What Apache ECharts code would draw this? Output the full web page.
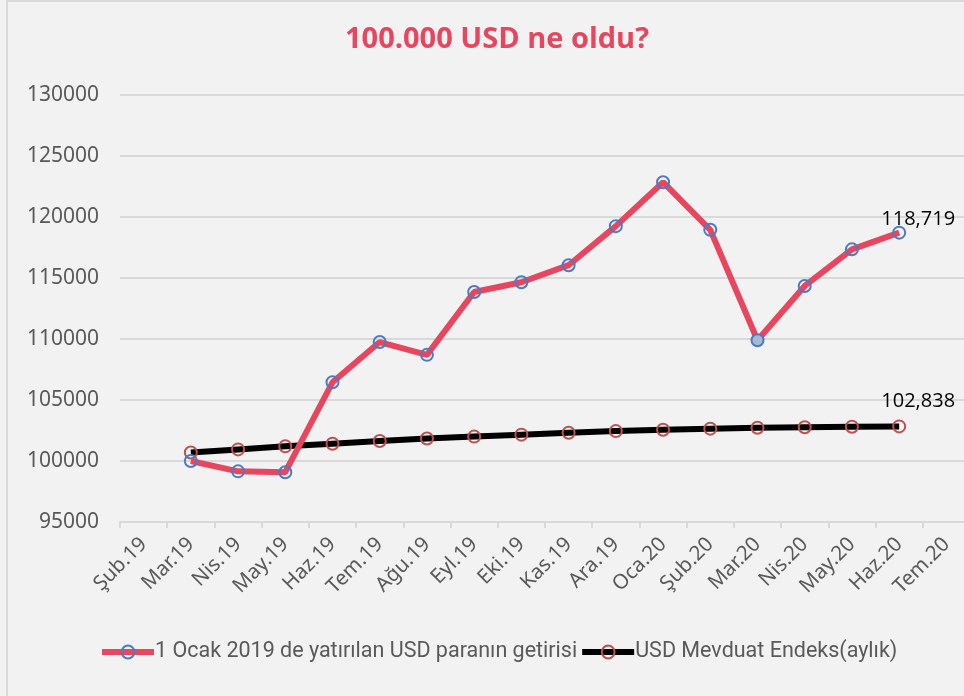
<!DOCTYPE html>
<html>
<head>
<meta charset="utf-8">
<script src="https://cdn.jsdelivr.net/npm/echarts@6/dist/echarts.min.js"></script>
<style>
  html, body { margin: 0; padding: 0; background: #f2f2f2; overflow: hidden; }
  #chart { width: 980px; height: 696px; }
</style>
</head>
<body>
<div id="chart"></div>
<script>
const months = ['Şub.19', 'Mar.19', 'Nis.19', 'May.19', 'Haz.19', 'Tem.19', 'Ağu.19', 'Eyl.19', 'Eki.19',
  'Kas.19', 'Ara.19', 'Oca.20', 'Şub.20', 'Mar.20', 'Nis.20', 'May.20', 'Haz.20', 'Tem.20'];
// ilk ay (Şub.19) ve son ay (Tem.20) boş
const getiri = [null, 100000, 99150, 99080, 106450, 109750, 108700, 113850, 114650,
  116050, 119250, 122850, 118950, 109900, 114350, 117350, 118719, null];
const mevduat = [null, 100700, 100950, 101200, 101420, 101640, 101840, 102000, 102160,
  102320, 102450, 102560, 102650, 102720, 102770, 102810, 102838, null];
const yTicks = [95000, 130000, 5000]; // min, max, interval

// grafik sağ kenardan biraz taşıyor, o yüzden div 980px
const chart = echarts.init(document.getElementById('chart'));

// son noktaya etiket
function lastLabel(arr, dy) {
  return arr.map((v, i) => {
    if (i === 16) {
      return {
        value: v,
        label: {
          show: true, position: 'top', distance: 4, offset: [19, dy],
          formatter: p => p.value.toLocaleString('en-US'),
          color: '#000', fontSize: 20, fontFamily: 'Open Sans'
        }
      };
    }
    if (arr === getiri && i === 13) {
      return { value: v, itemStyle: { color: '#a9b8cc' } };
    }
    return v;
  });
}

const name1 = '1 Ocak 2019 de yatırılan USD paranın getirisi';
const name2 = 'USD Mevduat Endeks(aylık)';

chart.setOption({
  backgroundColor: '#f2f2f2',
  graphic: [{
    type: 'rect',
    shape: { x: 7, y: 1, width: 1000, height: 720 },
    style: { fill: 'none', stroke: '#d9d9d9', lineWidth: 2 },
    silent: true
  }],
  title: {
    text: '100.000 USD ne oldu?',
    left: 492, top: 20, textAlign: 'center',
    textStyle: { color: '#e8465f', fontSize: 29, fontWeight: 'bold', fontFamily: 'Open Sans' }
  },
  legend: {
    top: 636, left: 94,
    itemWidth: 52, itemHeight: 16, itemGap: 2,
    data: [
      { name: name1, lineStyle: { width: 6 } },
      { name: name2, lineStyle: { width: 6 } }
    ],
    textStyle: { color: '#595959', fontSize: 21.5, fontFamily: 'Roboto', padding: [0, 0, 0, -4] }
  },
  grid: { left: 120, top: 95, width: 850, bottom: 174 },
  xAxis: {
    type: 'category',
    data: months,
    boundaryGap: true,
    axisLine: { lineStyle: { color: '#d9d9d9', width: 2 } },
    axisTick: { show: true, length: 6, lineStyle: { color: '#d9d9d9', width: 2 } },
    axisLabel: { rotate: 45, interval: 0, color: '#595959', fontSize: 20.5, fontFamily: 'Noto Sans', margin: 19 }
  },
  yAxis: {
    type: 'value',
    min: yTicks[0], max: yTicks[1], interval: yTicks[2],
    axisLine: { show: false },
    axisTick: { show: false },
    splitLine: { lineStyle: { color: '#d9d9d9', width: 2 } },
    axisLabel: { color: '#595959', fontSize: 21, fontFamily: 'Noto Sans', margin: 21, formatter: v => String(v) }
  },
  series: [
    {
      name: name1,
      type: 'line',
      data: lastLabel(getiri, 8),
      symbol: 'circle', symbolSize: 12,
      lineStyle: { color: '#e8465f', width: 6 },
      itemStyle: { color: 'rgba(0,0,0,0)', borderColor: '#4a7cc4', borderWidth: 2 },
      z: 3
    },
    {
      name: name2,
      type: 'line',
      data: lastLabel(mevduat, -4),
      symbol: 'circle', symbolSize: 12,
      lineStyle: { color: '#000', width: 6 },
      itemStyle: { color: 'rgba(0,0,0,0)', borderColor: '#c0504d', borderWidth: 2 },
      z: 2
    }
  ]
});
</script>
</body>
</html>
